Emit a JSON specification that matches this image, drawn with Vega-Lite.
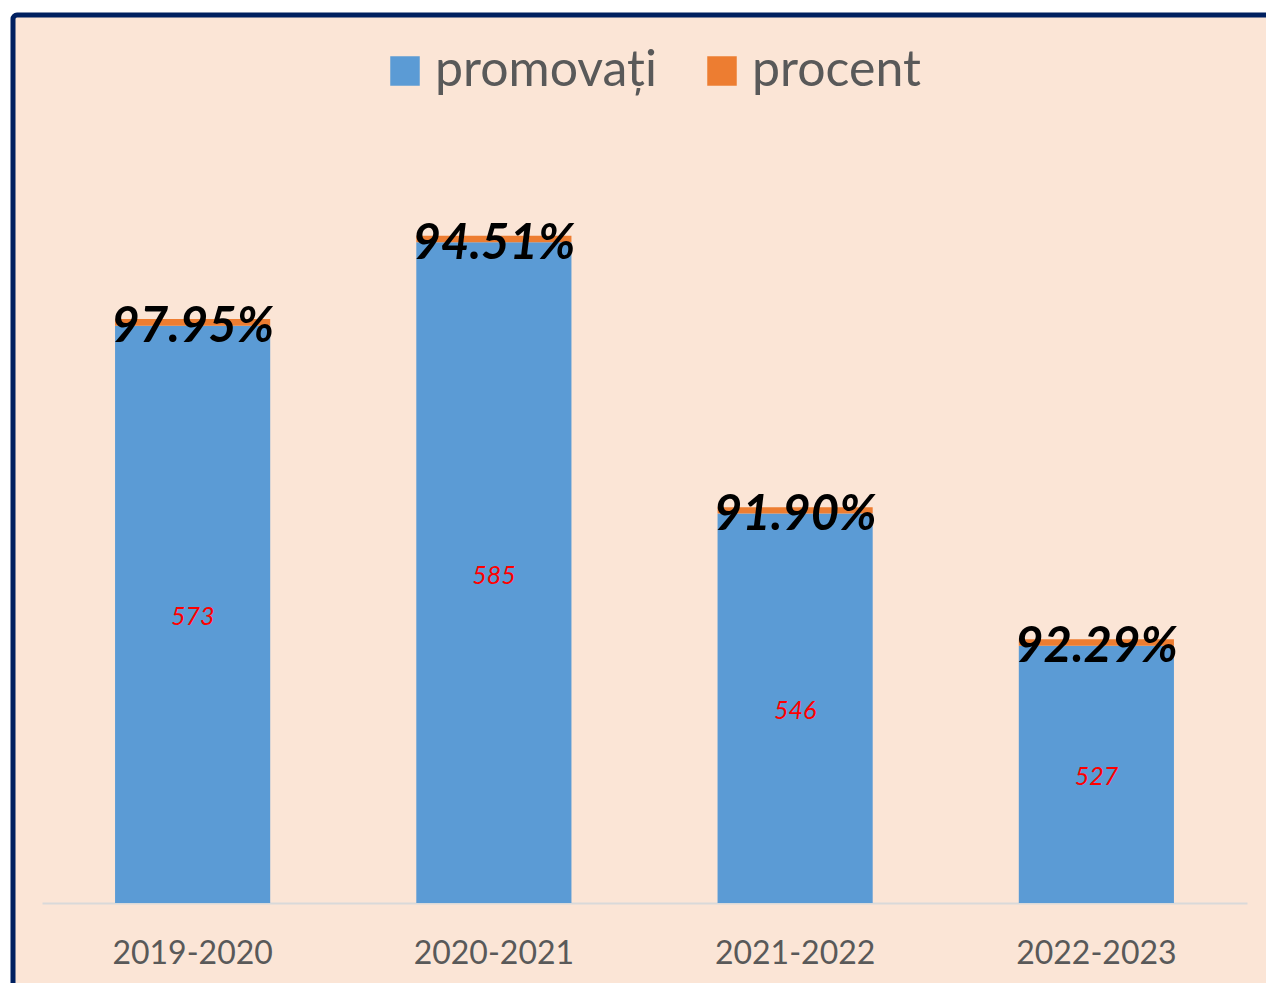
{
  "$schema": "https://vega.github.io/schema/vega-lite/v6.json",
  "width": 1300,
  "height": 1000,
  "autosize": {"type": "none"},
  "padding": {"left": 13, "top": 15, "right": 0, "bottom": 0},
  "background": "#FFFFFF",
  "view": {"fill": "#FBE5D6", "stroke": "#002060", "strokeWidth": 5, "cornerRadius": 4},
  "data": {
    "values": [
      {"an": "2019-2020", "promovați": 573, "procent": 0.9795},
      {"an": "2020-2021", "promovați": 585, "procent": 0.9451},
      {"an": "2021-2022", "promovați": 546, "procent": 0.9190},
      {"an": "2022-2023", "promovați": 527, "procent": 0.9229}
    ]
  },
  "encoding": {
    "x": {
      "field": "an",
      "type": "nominal",
      "sort": null,
      "scale": {"range": [29, 1234], "paddingInner": 0.485, "paddingOuter": 0.2425},
      "axis": {
        "title": null,
        "labelAngle": 0,
        "labelFont": "Lato",
        "labelFontSize": 32,
        "labelColor": "#595959",
        "labelPadding": 35,
        "ticks": false,
        "grid": false,
        "domainColor": "#D9D9D9",
        "domainWidth": 2,
        "offset": -112
      }
    }
  },
  "layer": [
    {
      "transform": [{"fold": ["promovați", "procent"], "as": ["serie", "valoare"]}],
      "mark": {"type": "bar"},
      "encoding": {
        "y": {
          "field": "valoare",
          "type": "quantitative",
          "stack": "zero",
          "scale": {"domain": [490, 600], "range": [888, 123], "zero": false, "nice": false, "clamp": true},
          "axis": null
        },
        "order": {"field": "valoare", "sort": "descending"},
        "color": {
          "field": "serie",
          "type": "nominal",
          "scale": {"domain": ["promovați", "procent"], "range": ["#5B9BD5", "#ED7D31"]},
          "legend": {
            "orient": "none",
            "legendX": 367,
            "legendY": 31,
            "direction": "horizontal",
            "title": null,
            "symbolType": "square",
            "symbolSize": 870,
            "symbolStrokeWidth": 0,
            "symbolOpacity": 1,
            "labelFont": "Lato",
            "labelFontSize": 50,
            "labelColor": "#595959",
            "labelOffset": 5,
            "columnPadding": 40,
            "labelLimit": 400
          }
        }
      }
    },
    {
      "transform": [{"calculate": "(datum['promovați'] + 490) / 2", "as": "mijloc"}],
      "mark": {"type": "text", "font": "Lato", "fontSize": 25, "fontStyle": "italic", "color": "#FF0000", "baseline": "middle", "dy": 3},
      "encoding": {
        "y": {
          "field": "mijloc",
          "type": "quantitative",
          "scale": {"domain": [490, 600], "range": [888, 123], "zero": false, "nice": false, "clamp": true},
          "axis": null
        },
        "text": {"field": "promovați", "type": "quantitative"}
      }
    },
    {
      "transform": [{"calculate": "datum['promovați'] + datum.procent", "as": "varf"}],
      "mark": {"type": "text", "font": "Lato", "fontSize": 49, "fontStyle": "italic", "fontWeight": "bold", "color": "#000000", "baseline": "alphabetic", "dy": 23},
      "encoding": {
        "y": {
          "field": "varf",
          "type": "quantitative",
          "scale": {"domain": [490, 600], "range": [888, 123], "zero": false, "nice": false, "clamp": true},
          "axis": null
        },
        "text": {"field": "procent", "type": "quantitative", "format": ".2%"}
      }
    }
  ]
}
